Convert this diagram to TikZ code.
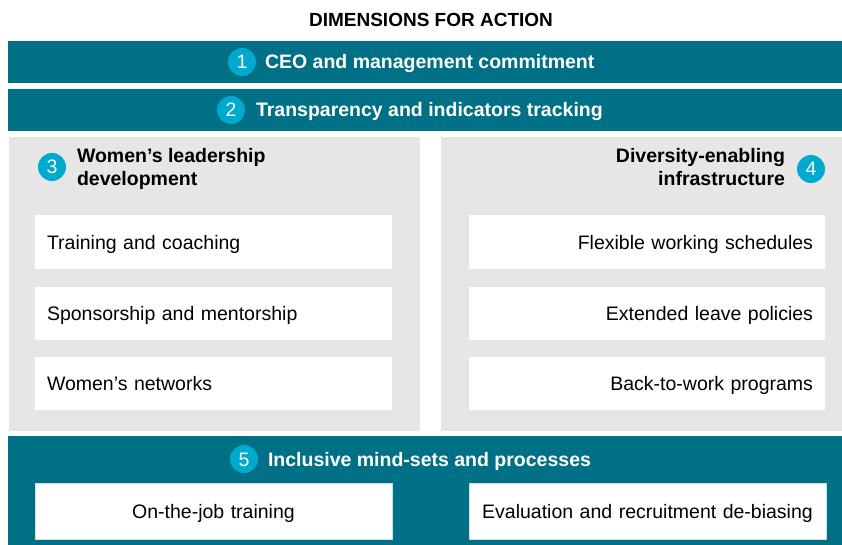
\documentclass[tikz,border=0pt]{standalone}
\usepackage{fontspec}
\setmainfont{Liberation Sans}
\definecolor{bandteal}{RGB}{0,112,135}
\definecolor{numblue}{RGB}{0,169,206}
\definecolor{panelgray}{RGB}{230,230,230}
\begin{document}
\begin{tikzpicture}[x=1pt,y=-1pt,
  every node/.style={inner sep=0pt, outer sep=0pt},
  txt/.style={font=\fontsize{19.5}{23}\selectfont},
  band/.style={fill=bandteal, minimum width=834pt},
  panel/.style={fill=panelgray, minimum height=294pt},
  itembox/.style={fill=white, minimum width=357pt, minimum height=54pt, txt, text height=14pt, text depth=0pt},
  leftitem/.style={itembox, text width=333pt, align=left},
  rightitem/.style={itembox, minimum width=356pt, text width=332pt, align=right},
  bottomitem/.style={itembox, minimum height=56pt, text width=333pt, align=center, draw=white!80!bandteal, line width=0.8pt},
  numcirc/.style={circle, fill=numblue, minimum size=28pt, text=white, txt, text height=14pt, text depth=0pt},
  bandtext/.style={txt, font=\fontsize{19.5}{23}\selectfont\bfseries, text=white, anchor=base west},
  headtext/.style={font=\fontsize{19.5}{23}\selectfont\bfseries}
]
\useasboundingbox (0,0) rectangle (842,545);

\node[font=\fontsize{19}{23}\selectfont\bfseries, anchor=base] (title) at (431,27) {DIMENSIONS FOR ACTION};

% bands 1 and 2
\node[band, minimum height=42pt] (b1) at (425,62) {};
\node[numcirc] (n1) at (242,62) {1};
\node[bandtext] (t1) at (265,69) {CEO and management commitment};

\node[band, minimum height=42pt] (b2) at (425,110) {};
\node[numcirc] (n2) at (231,110) {2};
\node[bandtext] (t2) at (256,117) {Transparency and indicators tracking};

% panels
\node[panel, minimum width=411pt] (p3) at (214.5,284) {};
\node[panel, minimum width=401pt] (p4) at (641.5,284) {};

\node[numcirc] (n3) at (52,167) {3};
\node[headtext, anchor=north west, align=left] (h3) at (77,148) {Women’s leadership\\development};

\node[numcirc] (n4) at (811,169) {4};
\node[headtext, anchor=north east, align=right] (h4) at (785,148) {Diversity-enabling\\infrastructure};

\node[leftitem] (l1) at (213.5,242) {Training and coaching};
\node[leftitem, minimum height=53pt] (l2) at (213.5,313.5) {Sponsorship and mentorship};
\node[leftitem, minimum height=53pt] (l3) at (213.5,383.5) {Women’s networks};

\node[rightitem] (r1) at (647,242) {Flexible working schedules};
\node[rightitem, minimum height=53pt] (r2) at (647,313.5) {Extended leave policies};
\node[rightitem, minimum height=53pt] (r3) at (647,383.5) {Back-to-work programs};

% band 5
\node[band, minimum height=109pt] (b5) at (425,490.5) {};
\node[numcirc] (n5) at (244,459) {5};
\node[bandtext] (t5) at (268,466) {Inclusive mind-sets and processes};

\node[bottomitem] (m1) at (213.5,511) {On-the-job training};
\node[bottomitem] (m2) at (647.5,511) {Evaluation and recruitment de-biasing};
\end{tikzpicture}
\end{document}
